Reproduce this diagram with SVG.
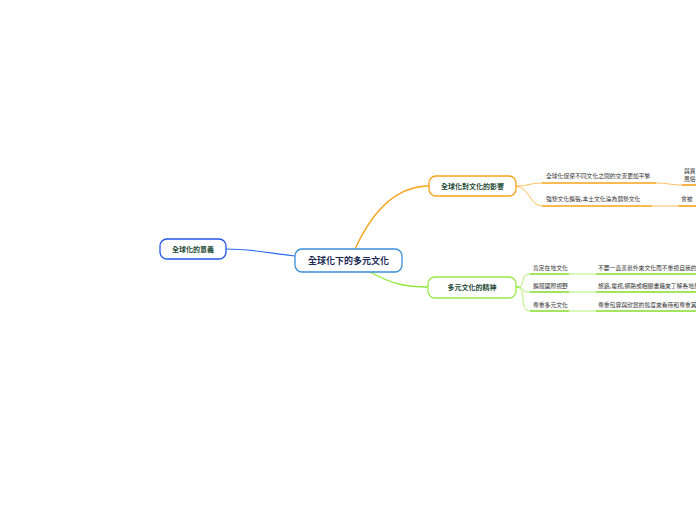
<svg xmlns="http://www.w3.org/2000/svg" width="696" height="520" viewBox="0 0 696 520">
<style>
text{font-family:"Noto Sans CJK TC","Noto Sans CJK SC",sans-serif}
.node{fill:#fff;stroke-width:1.3}
.nt{font-size:7px;font-weight:bold;fill:#1d4a35;text-anchor:middle}
.ct{font-size:5.8px;fill:#333}
.or{stroke:#f7a21b;fill:none}
.gr{stroke:#8fe83a;fill:none}
.ul-or{stroke:#f7a21b;stroke-width:1.6}
.ul-gr{stroke:#86dc2a;stroke-width:1.6}
</style>
<rect width="696" height="520" fill="#fff"/>
<g id="connectors">
<path d="M295,256 C262,252 250,249 226,249" stroke="#2d6cf0" stroke-width="1.2" fill="none"/>
<path d="M355,249 C372,212 395,186 429,186" class="or" stroke-width="1.3"/>
<path d="M370,272 C392,284 405,287 428,287" class="gr" stroke-width="1.3"/>
<path d="M516,186 C528,186 530,183 542,183" class="or" stroke-width="0.7"/>
<path d="M516,186 C530,188 530,206 542,206" class="or" stroke-width="0.7"/>
<path d="M656,183 C668,183 670,185 682,185" class="or" stroke-width="0.7"/>
<path d="M652,206 L678,206" class="or" stroke-width="0.7"/>
<path d="M516,287 C528,287 518,274 530,274" class="gr" stroke-width="0.7"/>
<path d="M516,287 C528,287 518,292 530,292" class="gr" stroke-width="0.7"/>
<path d="M516,287 C528,287 518,311 530,311" class="gr" stroke-width="0.7"/>
<path d="M569,274 L596,274" class="gr" stroke-width="0.7"/>
<path d="M569,292 L596,292" class="gr" stroke-width="0.7"/>
<path d="M569,311 L596,311" class="gr" stroke-width="0.7"/>
</g>
<g id="central">
<rect x="295" y="249" width="107" height="23" rx="7" class="node" stroke="#3a8fd6"/>
<text x="348.5" y="264" font-size="9" font-weight="bold" fill="#1b2b55" text-anchor="middle">全球化下的多元文化</text>
</g>
<g id="meaning">
<rect x="160" y="239" width="66" height="20" rx="7" class="node" stroke="#2456e6"/>
<text x="193" y="251.5" class="nt">全球化的意義</text>
</g>
<g id="impact">
<rect x="429" y="176" width="87" height="20" rx="7" class="node" stroke="#f7a21b"/>
<text x="472.5" y="188.5" class="nt">全球化對文化的影響</text>
</g>
<g id="spirit">
<rect x="428" y="277" width="88" height="21" rx="7" class="node" stroke="#9ae84a"/>
<text x="472" y="290" class="nt">多元文化的精神</text>
</g>
<g id="impact-1">
<line x1="542" y1="183" x2="656" y2="183" class="ul-or"/>
<text x="546" y="178" class="ct">全球化促使不同文化之間的交流更加平繁</text>
</g>
<g id="impact-2">
<line x1="542" y1="206" x2="652" y2="206" class="ul-or"/>
<text x="546" y="201" class="ct">強勢文化擴張,本土文化淪為弱勢文化</text>
</g>
<g id="impact-1a">
<line x1="682" y1="185" x2="700" y2="185" class="ul-or"/>
<text x="684" y="173" class="ct">與異</text>
<text x="684" y="181" class="ct">風俗</text>
</g>
<g id="impact-2a">
<line x1="678" y1="206" x2="700" y2="206" class="ul-or"/>
<text x="681" y="201" class="ct">會被</text>
</g>
<g id="spirit-1">
<line x1="530" y1="274" x2="569" y2="274" class="ul-gr"/>
<text x="533" y="269.5" class="ct">肯定在地文化</text>
</g>
<g id="spirit-2">
<line x1="530" y1="292" x2="569" y2="292" class="ul-gr"/>
<text x="533" y="288" class="ct">擴展國際視野</text>
</g>
<g id="spirit-3">
<line x1="530" y1="311" x2="569" y2="311" class="ul-gr"/>
<text x="533" y="307" class="ct">尊重多元文化</text>
</g>
<g id="spirit-1a">
<line x1="596" y1="274" x2="700" y2="274" class="ul-gr"/>
<text x="598" y="269.5" class="ct">不要一直羨慕外來文化而不重視自我的文化</text>
</g>
<g id="spirit-2a">
<line x1="596" y1="292" x2="700" y2="292" class="ul-gr"/>
<text x="598" y="288" class="ct">旅遊,電視,網路或相關書籍來了解各地風俗</text>
</g>
<g id="spirit-3a">
<line x1="596" y1="311" x2="700" y2="311" class="ul-gr"/>
<text x="598" y="307" class="ct">尊重包容與欣賞的態度來看待和尊重其他文化</text>
</g>
</svg>
